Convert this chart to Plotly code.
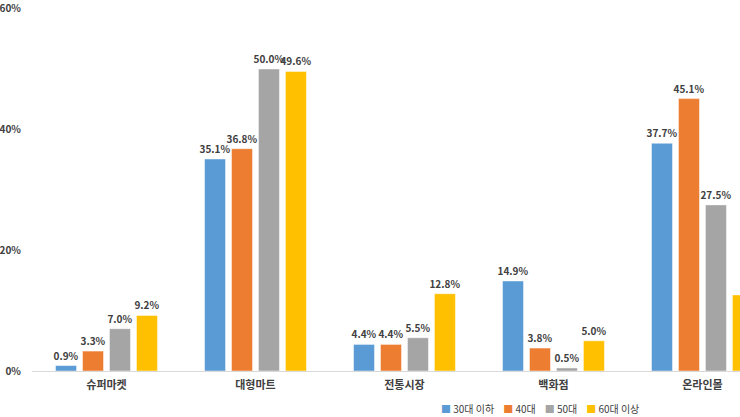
import plotly.graph_objects as go

# 구매 장소별 연령대 비중 (%)
categories = ["슈퍼마켓", "대형마트", "전통시장", "백화점", "온라인몰"]
series_names = ["30대 이하", "40대", "50대", "60대 이상"]
under30 = [0.9, 35.1, 4.4, 14.9, 37.7]
age40 = [3.3, 36.8, 4.4, 3.8, 45.1]
age50 = [7.0, 50.0, 5.5, 0.5, 27.5]
over60 = [9.2, 49.6, 12.8, 5.0, 12.6]
y_ticks = [0, 20, 40, 60]
y_tick_labels = ["0%", "20%", "40%", "60%"]

colors = ["#5B9BD5", "#ED7D31", "#A5A5A5", "#FFC000"]
font_family = "Noto Sans CJK KR, Noto Sans, sans-serif"
text_color = "#404040"

fig = go.Figure()
for name, vals, c in zip(series_names, [under30, age40, age50, over60], colors):
    fig.add_trace(go.Bar(
        x=categories,
        y=vals,
        name=name,
        marker=dict(color=c, line=dict(color="rgba(255,255,255,0.45)", width=1)),
        text=["%.1f%%" % v for v in vals],
        textposition="outside",
        textfont=dict(family=font_family, size=10, color=text_color, weight="bold"),
        constraintext="none",
        cliponaxis=False,
        showlegend=False,
    ))

# legend row as one line of text
legend_text = "&nbsp;&nbsp;&nbsp;&nbsp;".join(
    "<span style='color:%s'>■</span> %s" % (c, n) for n, c in zip(series_names, colors)
)
fig.add_annotation(
    text=legend_text, xref="paper", yref="paper", x=0.575, y=-0.103,
    xanchor="left", yanchor="middle", showarrow=False,
    font=dict(family=font_family, size=10, color=text_color),
)

fig.update_layout(
    width=740,
    height=417,
    margin=dict(l=31, r=0, t=5, b=46),
    paper_bgcolor="white",
    plot_bgcolor="white",
    bargap=0.276,
    bargroupgap=0.222,
    barmode="group",
    font=dict(family=font_family, color=text_color),
    xaxis=dict(
        range=[-0.5, 4.252],
        showline=True, linecolor="#D9D9D9", linewidth=1,
        showgrid=False, ticks="",
        ticklabelstandoff=4,
        tickfont=dict(family=font_family, size=11, color=text_color, weight="bold"),
    ),
    yaxis=dict(
        range=[0, 60.1],
        tickvals=y_ticks, ticktext=y_tick_labels,
        showgrid=False, zeroline=False, showline=False, ticks="",
        ticklabelstandoff=10,
        ticklabeloverflow="allow",
        tickfont=dict(family=font_family, size=10, color=text_color, weight="bold"),
    ),
)

fig.write_html("out.html", config={"displayModeBar": False},
               post_script="document.body.style.margin='0';")
